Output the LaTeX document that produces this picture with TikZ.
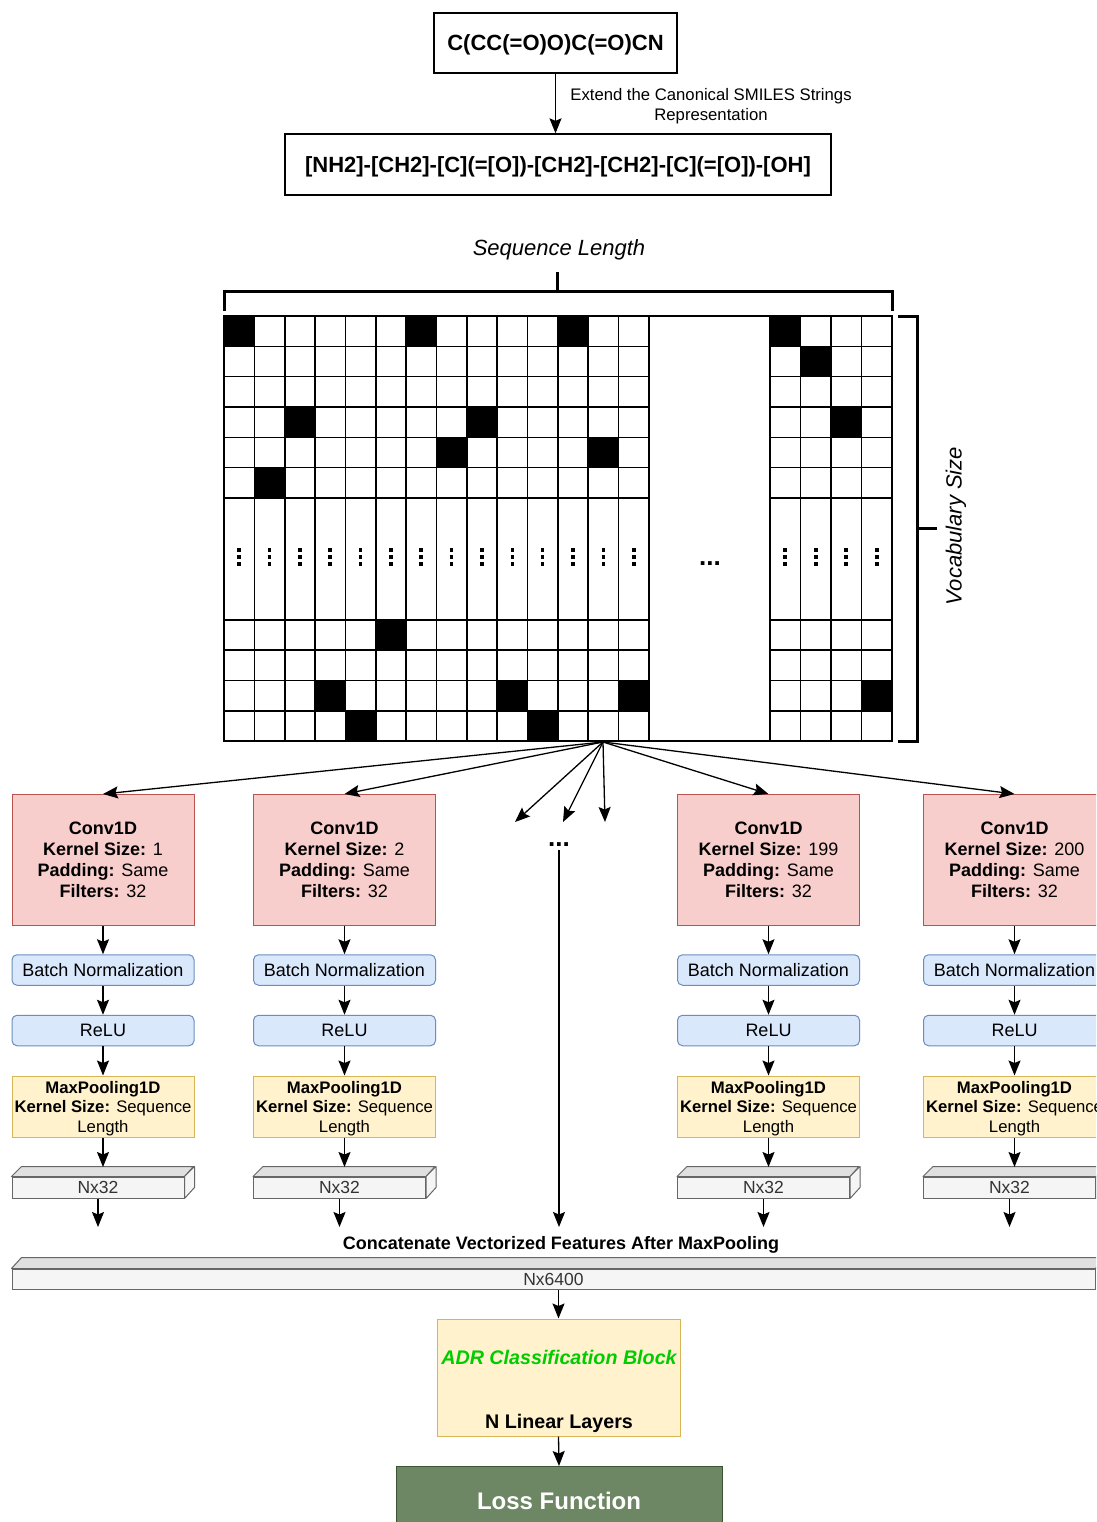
\documentclass[tikz,border=0pt]{standalone}
\usepackage{fontspec}
\setmainfont{Liberation Sans}
\usetikzlibrary{arrows.meta,calc}

\definecolor{convfill}{HTML}{F8CECC}
\definecolor{convline}{HTML}{B85450}
\definecolor{bluefill}{HTML}{DAE8FC}
\definecolor{blueline}{HTML}{6C8EBF}
\definecolor{yelfill}{HTML}{FFF2CC}
\definecolor{yelline}{HTML}{D6B656}
\definecolor{cubefront}{HTML}{F5F5F5}
\definecolor{cubetop}{HTML}{E0E0E0}
\definecolor{cubeline}{HTML}{666666}
\definecolor{lossfill}{HTML}{6D8764}
\definecolor{lossline}{HTML}{3A5431}
\definecolor{adrgreen}{HTML}{00CC00}
\definecolor{txtgray}{HTML}{333333}

\newcommand{\myfs}[2]{\fontsize{#1}{#2}\selectfont}

\begin{document}
\begin{tikzpicture}[x=1pt,y=-1pt,
  arr/.style={-{Stealth[length=15pt,width=12pt,inset=2.5pt]}, line width=1.3pt},
  topbox/.style={draw=black, line width=1.3pt, fill=white, inner sep=0pt, text depth=0pt, font=\myfs{22}{26}\bfseries},
  conv/.style={draw=convline, fill=convfill, line width=1pt, minimum width=182pt, minimum height=131pt, align=center, font=\myfs{18}{21}, inner sep=0pt},
  bn/.style={draw=blueline, fill=bluefill, rounded corners=5pt, line width=1pt, minimum width=182pt, minimum height=30.5pt, font=\myfs{18}{21}, inner sep=0pt},
  mp/.style={draw=yelline, fill=yelfill, line width=1pt, minimum width=182pt, minimum height=61pt, align=center, text depth=0pt, font=\myfs{16.7}{19.5}, inner sep=0pt},
  cubef/.style={draw=cubeline, fill=cubefront, line width=1pt, minimum width=172pt, minimum height=21pt, font=\myfs{17.5}{20}, text=txtgray, inner sep=0pt},
  cubes/.style={draw=cubeline, fill=cubetop, line width=1pt, line join=round},
  cubeside/.style={draw=cubeline, fill=cubefront, line width=1pt, line join=round},
  gridline/.style={line width=1.6pt},
  brack/.style={line width=3pt},
  txt/.style={inner sep=0pt}
]
\useasboundingbox (0,0) rectangle (1096,1522);
\clip (0,0) rectangle (1096,1522);
\fill[white] (0,0) rectangle (1096,1522);

% ---------- top boxes ----------
\node[topbox, minimum width=243pt, minimum height=60pt] (smi) at (555.5,43) {C(CC(=O)O)C(=O)CN};
\node[topbox, minimum width=546pt, minimum height=61pt] (ext) at (558,164.5) {[NH2]-[CH2]-[C](=[O])-[CH2]-[CH2]-[C](=[O])-[OH]};
\draw[arr] (smi.south) -- (smi.south |- ext.north);
\node[txt, align=center, font=\myfs{16.7}{20}] (lbl) at (711,106) {Extend the Canonical SMILES Strings\\Representation};

% ---------- sequence matrix ----------
\node[txt, font=\myfs{22}{26}\itshape] (seql) at (559,250) {Sequence Length};
\draw[brack] (224,311) -- (224,291) -- (892,291) -- (892,311);
\draw[brack] (557,291) -- (557,272);
\draw[brack] (898,316) -- (917,316) -- (917,741) -- (898,741);
\draw[brack] (917,528) -- (937,528);
\node[txt, rotate=90, font=\myfs{22}{26}\itshape] (voc) at (956,526) {Vocabulary Size};

% black cells, top rows
\foreach \r/\c in {0/0,0/6,0/11,3/2,3/8,4/7,4/12,5/1}
  \fill ({224+\c*30.35},{316+\r*30.33}) rectangle ++(30.35,30.33);
% black cells, bottom rows
\foreach \r/\c in {0/5,2/3,2/9,2/13,3/4,3/10}
  \fill ({224+\c*30.35},{620+\r*30.25}) rectangle ++(30.35,30.25);
% black cells, right group
\fill (770,316) rectangle ++(30.5,30.33);
\fill (800.5,346.33) rectangle ++(30.5,30.33);
\fill (831,407) rectangle ++(30.5,30.33);
\fill (861.5,680.5) rectangle ++(30.5,30.25);

% grid lines
\draw[gridline] (224,316) rectangle (892,741);
\foreach \i in {1,...,14}
  \draw[gridline] ({224+\i*30.35},316) -- ({224+\i*30.35},741);
\foreach \j in {0,...,3}
  \draw[gridline] ({770+\j*30.5},316) -- ({770+\j*30.5},741);
\foreach \yy in {346.33,376.67,407,437.33,467.67,498,620,650.25,680.5,710.75} {
  \draw[gridline] (224,\yy) -- (648.9,\yy);
  \draw[gridline] (770,\yy) -- (892,\yy);
}
% vertical dots in tall row
\foreach \i in {0,...,13}
  \foreach \dy in {550,557,564}
    \fill ({224+(\i+0.5)*30.35-1.8},{\dy-1.8}) rectangle ++(3.6,3.6);
\foreach \j in {0,...,3}
  \foreach \dy in {550,557,564}
    \fill ({770+(\j+0.5)*30.5-1.8},{\dy-1.8}) rectangle ++(3.6,3.6);
\node[txt, font=\myfs{26}{30}\bfseries] (gapdots) at (710,564) {...};

% ---------- columns ----------
\foreach \k/\cx/\ks in {1/103/1, 2/344.5/2, 3/768.5/199, 4/1014.5/200} {
  \node[conv] (c\k) at (\cx,860) {\textbf{Conv1D}\\\textbf{Kernel Size:} \ks\\\textbf{Padding:} Same\\\textbf{Filters:} 32};
  \node[bn] (b\k) at (\cx,970) {Batch Normalization};
  \node[bn] (r\k) at (\cx,1030.5) {ReLU};
  \node[mp] (m\k) at (\cx,1106.5) {\textbf{MaxPooling1D}\\\textbf{Kernel Size:} Sequence\\Length};
  \node[cubef] (p\k) at ({\cx-5},1187.5) {Nx32};
  \draw[cubes] (p\k.north west) -- ++(10,-10) -- ++(172,0) -- (p\k.north east) -- cycle;
  \draw[cubeside] (p\k.north east) -- ++(10,-10) -- ++(0,21) -- (p\k.south east) -- cycle;
  \coordinate (t\k) at (\cx,1167);
  \coordinate (e\k) at ({\cx-5},1227);
  \draw[arr] (c\k) -- (b\k);
  \draw[arr] (b\k) -- (r\k);
  \draw[arr] (r\k) -- (m\k);
  \draw[arr] (m\k) -- (t\k);
  \draw[arr] (p\k) -- (e\k);
}

% ---------- fan ----------
\coordinate (fan) at (603,742);
\coordinate (s1) at (515,822);
\coordinate (s2) at (563,822);
\coordinate (s3) at (605,822);
\draw[arr] (fan) -- (c1.north);
\draw[arr] (fan) -- (c2.north);
\draw[arr] (fan) -- (s1);
\draw[arr] (fan) -- (s2);
\draw[arr] (fan) -- (s3);
\draw[arr] (fan) -- (c3.north);
\draw[arr] (fan) -- (c4.north);

% middle column
\node[inner sep=3pt, font=\myfs{26}{30}\bfseries] (md) at (559,845) {...};
\coordinate (emid) at (559,1227);
\draw[arr] (md.south) -- (emid);

% ---------- concatenation ----------
\node[txt, font=\myfs{18}{22}\bfseries] (cct) at (561,1245) {Concatenate Vectorized Features After MaxPooling};
\node[draw=cubeline, fill=cubefront, line width=1pt, minimum width=1083pt, minimum height=20pt, inner sep=0pt, font=\myfs{17.5}{20}, text=txtgray] (bar) at (553.5,1279) {Nx6400};
\draw[cubes] (bar.north west) -- ++(10,-11) -- ++(1083,0) -- (bar.north east) -- cycle;

% ---------- classification ----------
\node[draw=yelline, fill=yelfill, line width=1pt, minimum width=243pt, minimum height=117pt, inner sep=0pt] (adr) at (558.5,1377.5) {};
\node[txt, font=\myfs{19.7}{24}\bfseries\itshape, text=adrgreen] (adrt) at (559,1357) {ADR Classification Block};
\node[txt, font=\myfs{19.7}{24}\bfseries] (adrn) at (559,1423) {N Linear Layers};
\draw[arr] (adr.north |- bar.south) -- (adr.north);

\node[draw=lossline, fill=lossfill, line width=1pt, minimum width=326pt, minimum height=68pt, inner sep=0pt, anchor=north, font=\myfs{24}{28}\bfseries, text=white] (loss) at (559,1466) {Loss Function};
\draw[arr] (adr.south) -- (loss.north);
\end{tikzpicture}
\end{document}
